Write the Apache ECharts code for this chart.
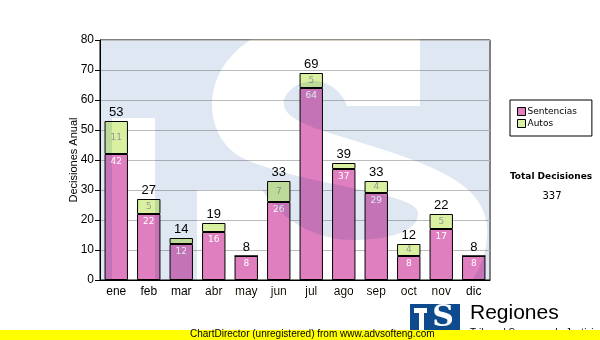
<!DOCTYPE html>
<html>
<head>
<meta charset="utf-8">
<script src="https://cdn.jsdelivr.net/npm/echarts@6/dist/echarts.min.js"></script>
<style>
  html, body { margin: 0; padding: 0; background: #fff; }
  #chart { width: 600px; height: 340px; }
</style>
</head>
<body>
<div id="chart"></div>
<script>
// Monthly decisions, split into judgments (Sentencias) and orders (Autos)
const months = ['ene', 'feb', 'mar', 'abr', 'may', 'jun', 'jul', 'ago', 'sep', 'oct', 'nov', 'dic'];
const sentencias = [42, 22, 12, 16, 8, 26, 64, 37, 29, 8, 17, 8];
const autos = [11, 5, 2, 3, 0, 7, 5, 2, 4, 4, 5, 0];
const yTicks = [0, 10, 20, 30, 40, 50, 60, 70, 80];

const totals = months.map((m, i) => sentencias[i] + autos[i]);
const grandTotal = totals.reduce((a, b) => a + b, 0);

const PLOT = { left: 100, top: 40, right: 490, bottom: 280 };
const PINK = '#e080c0';
const GREEN = '#d8f0a0';
const TINT = [223, 232, 242];           // watermark tint, multiplied over the plot
const FONT = 'Liberation Sans, Arial, sans-serif';
const SMALL = 'DejaVu Sans, Verdana, sans-serif';

const rgb = c => 'rgb(' + c.join(',') + ')';
// dodge colour that divides the tint back out inside the letterforms
const UNTINT = rgb(TINT.map(v => 255 - v));

// outline of the large watermark "S" (M/L/C/Z commands)
const S_PATH =
  'M420,28 L420,106 L347,106 C342,92 330,82 315,81 C300,81 287,89 284,100 ' +
  'C282,112 292,120 320,130 C360,143 420,158 455,180 C480,196 488,215 487,235 ' +
  'C486,285 440,325 370,330 C300,334 235,322 197,300 L197,190 L262,190 ' +
  'C282,222 318,240 352,240 C392,240 417,230 418,215 C419,205 405,200 375,193 ' +
  'C320,181 262,170 237,155 C218,141 212,122 212,104 ' +
  'C212,55 265,18 330,16 C370,15 400,20 420,28 Z';

// flatten the outline into polygon points
function flatten(d, steps) {
  const tok = d.match(/[MLCZ]|-?\d+(\.\d+)?/g);
  const pts = [];
  let i = 0, cmd = null, cur = [0, 0];
  const num = () => parseFloat(tok[i++]);
  while (i < tok.length) {
    if (/[MLCZ]/.test(tok[i])) cmd = tok[i++];
    if (cmd === 'Z') break;
    if (cmd === 'M' || cmd === 'L') {
      cur = [num(), num()];
      pts.push(cur);
    } else if (cmd === 'C') {
      const c1 = [num(), num()], c2 = [num(), num()], p = [num(), num()];
      for (let k = 1; k <= steps; k++) {
        const t = k / steps, u = 1 - t;
        pts.push([
          u * u * u * cur[0] + 3 * u * u * t * c1[0] + 3 * u * t * t * c2[0] + t * t * t * p[0],
          u * u * u * cur[1] + 3 * u * u * t * c1[1] + 3 * u * t * t * c2[1] + t * t * t * p[1]
        ]);
      }
      cur = p;
    }
  }
  return pts;
}

const chart = echarts.init(document.getElementById('chart'), null, { renderer: 'canvas' });

chart.setOption({
  animation: false,
  backgroundColor: '#ffffff',
  grid: {
    left: PLOT.left, top: PLOT.top,
    width: PLOT.right - PLOT.left, height: PLOT.bottom - PLOT.top,
    show: true, borderColor: '#000', borderWidth: 1,
    backgroundColor: '#ffffff'
  },
  graphic: [
    // watermark: tint the whole plot, then lift it again inside the "T" stem and the "S"
    {
      type: 'rect', z: 50, silent: true,
      shape: { x: PLOT.left + 1, y: PLOT.top + 1, width: PLOT.right - PLOT.left - 2, height: PLOT.bottom - PLOT.top - 1 },
      style: { fill: rgb(TINT), blend: 'multiply' }
    },
    {
      type: 'rect', z: 51, silent: true,
      shape: { x: 112, y: 118, width: 43, height: PLOT.bottom - 118 },
      style: { fill: UNTINT, blend: 'color-dodge' }
    },
    {
      type: 'polygon', z: 51, silent: true,
      shape: { points: flatten(S_PATH, 16) },
      style: { fill: UNTINT, blend: 'color-dodge' }
    },
    // side panel: grand total
    {
      type: 'text', z: 60, x: 551, y: 177,
      style: {
        text: 'Total Decisiones', fill: '#000', font: 'bold 9px ' + SMALL,
        align: 'center', verticalAlign: 'middle', textAlign: 'center', textVerticalAlign: 'middle'
      }
    },
    {
      type: 'text', z: 60, x: 552, y: 196,
      style: {
        text: String(grandTotal), fill: '#000', font: '10px ' + SMALL,
        align: 'center', verticalAlign: 'middle', textAlign: 'center', textVerticalAlign: 'middle'
      }
    },
    // footer logo
    {
      type: 'rect', z: 60,
      shape: { x: 410, y: 304, width: 50, height: 27 },
      style: { fill: '#0d4a8e' }
    },
    {
      type: 'rect', z: 61,
      shape: { x: 414, y: 308, width: 13, height: 5 },
      style: { fill: '#ffffff' }
    },
    {
      type: 'rect', z: 61,
      shape: { x: 419, y: 308, width: 5, height: 23 },
      style: { fill: '#ffffff' }
    },
    {
      type: 'text', z: 61, x: 443, y: 318,
      style: {
        text: 'S', fill: '#ffffff', font: 'bold 30px "DejaVu Serif", serif',
        align: 'center', verticalAlign: 'middle', textAlign: 'center', textVerticalAlign: 'middle'
      }
    },
    {
      type: 'text', left: 470, top: 303, z: 60,
      style: { text: 'Regiones', fill: '#000', font: '21px ' + FONT }
    },
    {
      type: 'text', left: 470, top: 328, z: 60,
      style: { text: 'Tribunal Supremo de Justicia', fill: '#000', font: '10px ' + FONT }
    },
    // unregistered banner
    {
      type: 'rect', z: 70,
      shape: { x: 0, y: 330, width: 600, height: 10 },
      style: { fill: '#ffff00' }
    },
    {
      type: 'text', left: 190, top: 329, z: 71,
      style: { text: 'ChartDirector (unregistered) from www.advsofteng.com', fill: '#000', font: '10px ' + FONT }
    }
  ],
  legend: {
    orient: 'vertical',
    left: 510, top: 100,
    data: ['Sentencias', 'Autos'],
    icon: 'rect',
    itemWidth: 8, itemHeight: 8, itemGap: 3,
    padding: [7, 15, 8, 7],
    borderColor: '#000', borderWidth: 1,
    backgroundColor: '#fff',
    textStyle: { fontFamily: SMALL, fontSize: 9, color: '#000', padding: [0, 0, 0, -3] },
    itemStyle: { borderColor: '#000', borderWidth: 1 }
  },
  xAxis: {
    type: 'category',
    data: months,
    axisLine: { lineStyle: { color: '#000', width: 1 } },
    axisTick: { alignWithLabel: true, length: 4, lineStyle: { color: '#000' } },
    axisLabel: { color: '#000', fontFamily: FONT, fontSize: 12, margin: 6 }
  },
  yAxis: {
    type: 'value',
    min: yTicks[0], max: yTicks[yTicks.length - 1], interval: 10,
    name: 'Decisiones Anual',
    nameLocation: 'middle', nameRotate: 90, nameGap: 21,
    nameMoveOverlap: false,
    nameTextStyle: { color: '#000', fontFamily: FONT, fontSize: 11 },
    axisLine: { show: true, lineStyle: { color: '#000', width: 1 } },
    axisTick: { show: true, length: 5, lineStyle: { color: '#000' } },
    axisLabel: { color: '#000', fontFamily: FONT, fontSize: 12, margin: 6 },
    splitLine: { show: true, lineStyle: { color: '#bcbcbc', width: 1 } }
  },
  series: [
    {
      name: 'Sentencias', type: 'bar', stack: 'total',
      data: sentencias, barWidth: '72%',
      itemStyle: { color: PINK, borderColor: '#000', borderWidth: 1 },
      label: {
        show: true, position: 'insideTop', distance: 3,
        color: '#ffffff', fontFamily: SMALL, fontSize: 9
      }
    },
    {
      name: 'Autos', type: 'bar', stack: 'total',
      data: autos, barWidth: '72%',
      itemStyle: { color: GREEN, borderColor: '#000', borderWidth: 1 },
      label: {
        show: true, position: 'inside',
        color: '#999999', fontFamily: SMALL, fontSize: 9,
        formatter: p => (p.value >= 4 ? String(p.value) : '')
      }
    },
    {
      name: 'Total', type: 'bar', stack: 'total',
      data: months.map(() => 0), barWidth: '72%',
      itemStyle: { color: 'transparent', borderWidth: 0 },
      label: {
        show: true, position: 'top', distance: 2,
        color: '#000', fontFamily: FONT, fontSize: 13,
        formatter: p => String(totals[p.dataIndex])
      },
      silent: true
    }
  ]
});
</script>
</body>
</html>
